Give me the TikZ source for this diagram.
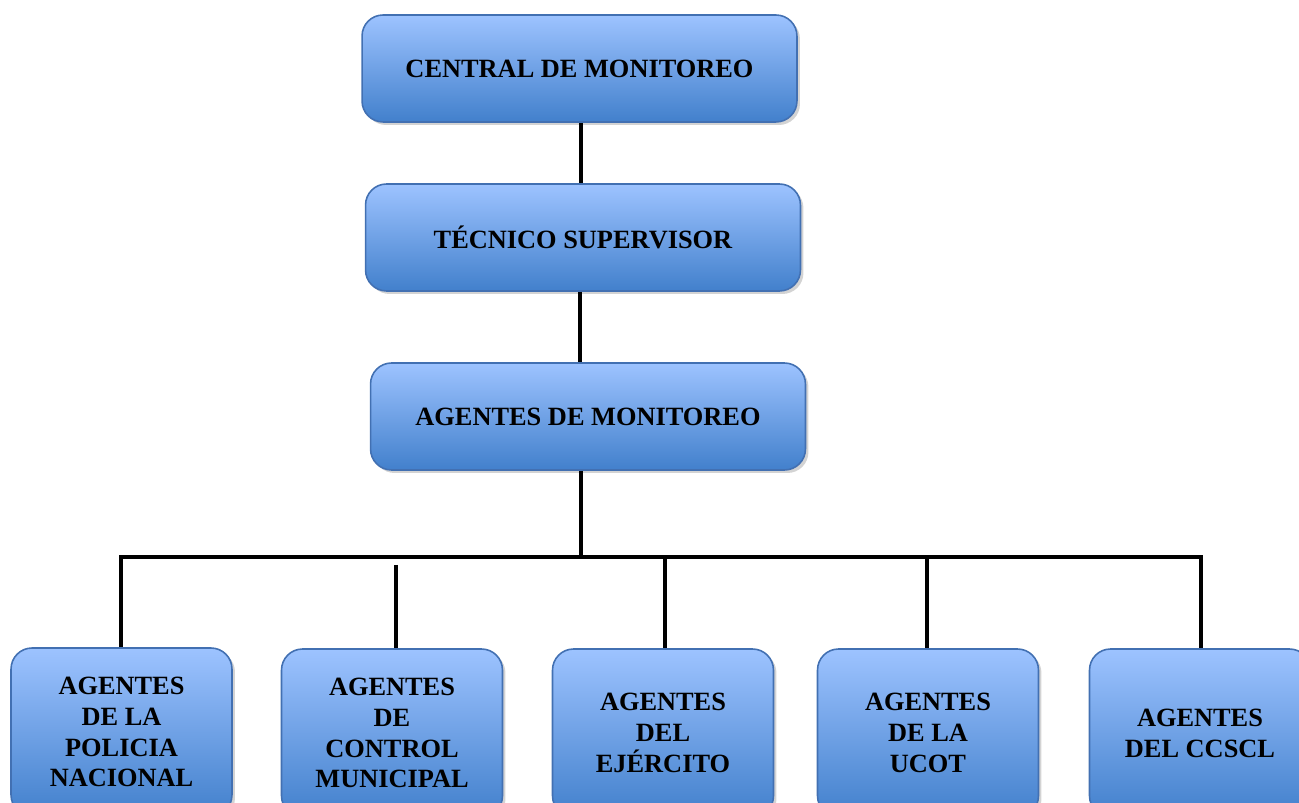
\documentclass[tikz,border=0pt]{standalone}
\usepackage{fontspec}
\setmainfont{Liberation Serif}
\usetikzlibrary{positioning, shadows}
\definecolor{boxtop}{RGB}{157,195,255}
\definecolor{boxbot}{RGB}{66,128,204}
\definecolor{boxline}{RGB}{66,112,178}
\tikzset{
x=0.02cm, y=-0.02cm, % one unit is one pixel of the layout
unit/.style={draw=boxline, line width=0.9pt, rounded corners=0.42cm,
  top color=boxtop, bottom color=boxbot, align=center,
  font=\fontsize{15}{17.6}\selectfont\bfseries,
  drop shadow={shadow xshift=0.06cm, shadow yshift=-0.06cm, opacity=0.35}}, % the boxes
head/.style={unit, minimum width=8.7cm, minimum height=2.14cm},
agent/.style={unit, minimum width=4.42cm, minimum height=3.36cm},
link/.style={line width=2.8pt, black}, % the connecting lines
}
\begin{document}
\begin{tikzpicture}
  \useasboundingbox (0,0) rectangle (1299,803);
  \clip (0,0) rectangle (1299,803);
  \node[head] (central) at (579.5,68.5) {CENTRAL DE MONITOREO};
  \node[head] (tecnico) at (583,237.5) {TÉCNICO SUPERVISOR};
  \node[head] (monit) at (588,416.5) {AGENTES DE MONITOREO};
  \node[agent] (policia) at (121.5,732) {AGENTES\\DE LA\\POLICIA\\NACIONAL};
  \node[agent] (control) at (392,733) {AGENTES\\DE\\CONTROL\\MUNICIPAL};
  \node[agent] (ejercito) at (663,733) {AGENTES\\DEL\\EJÉRCITO};
  \node[agent] (ucot) at (928,733) {AGENTES\\DE LA\\UCOT};
  \node[agent] (ccscl) at (1200,733) {AGENTES\\DEL CCSCL};
  \coordinate (busL) at (121,557);
  \coordinate (busR) at (1201,557);
  \coordinate (gap) at (396,565);
  \draw[link] (central.south -| 581,0) -- (tecnico.north -| 581,0);
  \draw[link] (tecnico.south -| 580,0) -- (monit.north -| 580,0);
  \draw[link] (monit.south -| 581,0) -- (busL -| 581,0);
  \draw[link, line cap=rect] (busL) -- (busR);
  \draw[link] (busL) -- (busL |- policia.north);
  \draw[link] (gap) -- (gap |- control.north);
  \draw[link] (665,557) -- (ejercito.north -| 665,0);
  \draw[link] (927,557) -- (ucot.north -| 927,0);
  \draw[link] (busR) -- (busR |- ccscl.north);
\end{tikzpicture}
\end{document}
